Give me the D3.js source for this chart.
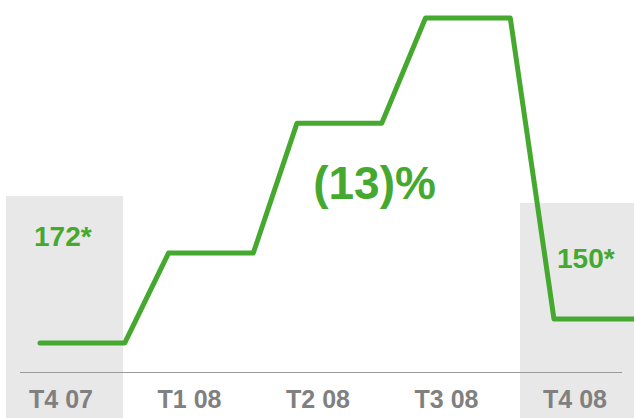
<!DOCTYPE html>
<html>
<head>
<meta charset="utf-8">
<script src="https://cdn.jsdelivr.net/npm/d3@7"></script>
<style>
  body { margin: 0; background: #fff; }
  svg { display: block; font-family: "Liberation Sans", Arial, sans-serif; }
</style>
</head>
<body>
<div id="chart"></div>
<script>
const width = 634;
const height = 418;

// quarters and the (illustrative) level of the line in each one, 0-100 index
const quarters = ["T4 07", "T1 08", "T2 08", "T3 08", "T4 08"];
const levels = [8.2, 33.5, 70.1, 99.7, 14.9];

// shaded quarters with their callout value
const highlights = ["T4 07", "T4 08"];
const highlightTop = [49.6, 47.6];
const callouts = ["172*", "150*"];
const change = "(13)%";

const green = "#45a82f";
const grey = "#808080";

const svg = d3.select("#chart")
  .append("svg")
  .attr("width", width)
  .attr("height", height);

const xScale = d3.scalePoint()
  .domain(quarters)
  .range([61, 575]);

const yScale = d3.scaleLinear()
  .domain([0, 100])
  .range([372, 17]);

const step = xScale.step();
const bandW = 117;

// grey backgrounds behind first and last quarter
svg.append("g")
  .selectAll("rect")
  .data(highlights)
  .enter()
  .append("rect")
  .attr("x", (d) => xScale(d) + 3.5 - bandW / 2)
  .attr("y", (d, i) => yScale(highlightTop[i]))
  .attr("width", bandW)
  .attr("height", (d, i) => height - yScale(highlightTop[i]))
  .attr("fill", "#e8e8e8");

// baseline
svg.append("line")
  .attr("x1", xScale(quarters[0]) - 41)
  .attr("x2", xScale(quarters[quarters.length - 1]) + 47)
  .attr("y1", yScale(0) + 0.5)
  .attr("y2", yScale(0) + 0.5)
  .attr("stroke", "#9a9a9a")
  .attr("stroke-width", 1);

// step-like line: flat within each quarter, ramp between
let pts = [];
quarters.forEach((q, i) => {
  const x0 = xScale(q) - 21;
  pts.push([x0, yScale(levels[i])]);
  pts.push([x0 + step * 0.66, yScale(levels[i])]);
});

svg.append("path")
  .datum(pts)
  .attr("fill", "none")
  .attr("stroke", green)
  .attr("stroke-width", 5)
  .attr("stroke-linejoin", "round")
  .attr("stroke-linecap", "round")
  .attr("d", d3.line());

// quarter labels
svg.append("g")
  .selectAll("text")
  .data(quarters)
  .enter()
  .append("text")
  .attr("x", (d) => xScale(d))
  .attr("y", 408)
  .attr("text-anchor", "middle")
  .attr("font-size", 25)
  .attr("font-weight", "bold")
  .attr("fill", grey)
  .text((d) => d);

// callouts in the shaded quarters
svg.append("g")
  .selectAll("text")
  .data(callouts)
  .enter()
  .append("text")
  .attr("x", (d, i) => xScale(highlights[i]) + (i === 0 ? -27 : -18))
  .attr("y", (d, i) => yScale(highlightTop[i]) + (i === 0 ? 50 : 65))
  .attr("font-size", 28)
  .attr("font-weight", "bold")
  .attr("fill", green)
  .text((d) => d);

// change label
svg.append("text")
  .attr("x", 374.5)
  .attr("y", 199)
  .attr("text-anchor", "middle")
  .attr("font-size", 46)
  .attr("font-weight", "bold")
  .attr("fill", green)
  .text(change);
</script>
</body>
</html>
